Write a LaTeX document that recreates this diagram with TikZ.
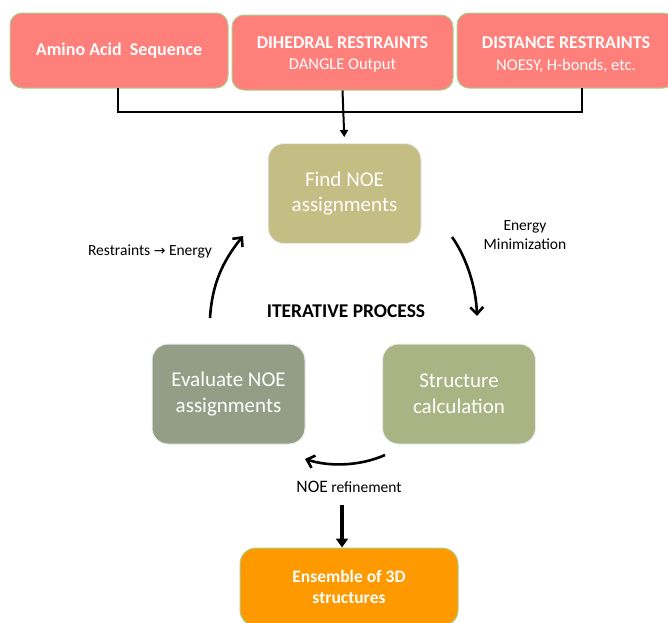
\documentclass[tikz,border=0pt]{standalone}
\usepackage{fontspec}
\setmainfont{Carlito}
\newfontfamily\symfont{DejaVu Sans}
\usetikzlibrary{arrows.meta}
\definecolor{pinkbox}{HTML}{FF7F7B}
\definecolor{greenedge}{HTML}{A9D08E}
\definecolor{findcol}{HTML}{C4BD84}
\definecolor{evalcol}{HTML}{949E87}
\definecolor{structcol}{HTML}{A9B384}
\definecolor{enscol}{HTML}{FF9900}
\tikzset{
  topbox/.style={draw=greenedge, line width=1pt, fill=pinkbox, rounded corners=12pt,
    minimum width=218pt, minimum height=75pt, text=white, align=center, inner sep=0pt,
    font=\fontsize{18}{21.5}\selectfont},
  toptext/.style={text=white, align=center, inner sep=0pt, font=\fontsize{18}{21.5}\selectfont},
  cyclebox/.style={draw=white!92!black, line width=1pt, rounded corners=16pt,
    minimum width=153pt, minimum height=100pt, text=white, align=center,
    font=\fontsize{21}{25.5}\selectfont, inner sep=0pt},
  curvearrow/.style={line width=2.6pt, -{Straight Barb[length=7pt,width=13pt,line width=2.6pt]}},
  lbl/.style={font=\fontsize{15.5}{19}\selectfont, align=center, inner sep=0pt}
}
\begin{document}
\begin{tikzpicture}[x=1pt,y=-1pt]
\useasboundingbox (0,0) rectangle (668,622);
\begin{scope}
\clip (0,0) rectangle (668,622);
\node[topbox] (amino) at (119,50.5) {\bfseries Amino Acid\ \ Sequence};
\node[topbox, minimum width=221pt] (dihed) at (342.5,52.5) {};
\node[toptext, yshift=-2pt] (dihedT) at (dihed.center)
  {\textbf{DIHEDRAL RESTRAINTS}\\{\fontsize{16.5}{21.5}\selectfont DANGLE Output}};
\node[topbox] (dist) at (566,50.5) {};
\node[toptext, yshift=-4pt] (distT) at (dist.center)
  {\textbf{DISTANCE RESTRAINTS}\\{\fontsize{16.5}{21.5}\selectfont NOESY, H-bonds, etc.}};

\node[cyclebox, fill=findcol] (find) at (344.5,193.5) {Find NOE\\assignments};
\node[cyclebox, fill=evalcol] (eval) at (228.5,394) {Evaluate NOE\\assignments};
\node[cyclebox, fill=structcol] (struct) at (459,394) {Structure\\calculation};
\node[draw=greenedge, line width=1pt, fill=enscol, rounded corners=16pt,
  minimum width=218pt, minimum height=78pt, text=white, align=center, inner sep=0pt,
  font=\fontsize{17.5}{21}\selectfont\bfseries] (ens) at (349,587) {Ensemble of 3D\\structures};
\end{scope}

% bracket
\coordinate (brR) at (582,88);
\coordinate (brL) at (118,88);
\draw[line width=2pt] (brL) -- (118,112) -- (582,112) -- (brR);
\draw[line width=2pt, -{Triangle[length=7pt,width=8pt]}, shorten >=6pt] (dihed.south) -- (find.north);

% labels
\node[lbl] (rte) at (150,251) {Restraints {\symfont\fontsize{14}{16}\selectfont →} Energy};
\node[lbl] (emin) at (525,235.5) {Energy\\Minimization};
\node[font=\fontsize{19.5}{22}\selectfont\bfseries, inner sep=0pt] (iter) at (346,311) {ITERATIVE PROCESS};
\node[lbl] (noeref) at (349,487) {{\fontsize{17.5}{19}\selectfont NOE} refinement};

% cycle arrows
\coordinate (l0) at (210,318);
\coordinate (l1) at (243,236);
\draw[curvearrow] (l0) .. controls (212,285) and (222,262) .. (l1);
\coordinate (r0) at (452,237);
\coordinate (r1) at (477,316);
\draw[curvearrow] (r0) .. controls (465,255) and (476,285) .. (r1);
\coordinate (b0) at (385,455);
\coordinate (b1) at (305,459);
\draw[curvearrow] (b0) .. controls (360,466) and (330,467) .. (b1);

% output arrow
\coordinate (o0) at (342,505);
\draw[line width=4pt, -{Triangle[length=9pt,width=12pt]}] (o0) -- (o0 |- ens.north);
\end{tikzpicture}
\end{document}
